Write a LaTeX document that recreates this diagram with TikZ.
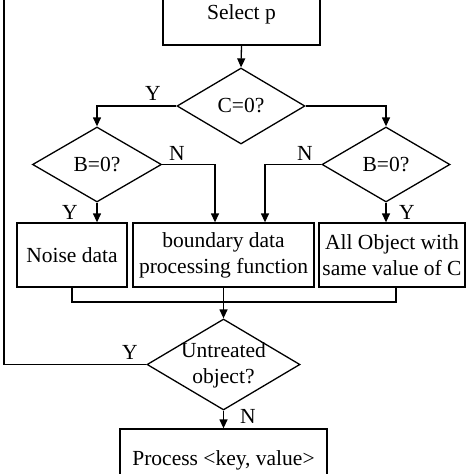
\documentclass[tikz,border=0pt]{standalone}
\usepackage{fontspec}
\setmainfont{Liberation Serif}
\usetikzlibrary{shapes.geometric,arrows.meta}
\begin{document}
\begin{tikzpicture}[x=1pt,y=-1pt,
  font=\fontsize{21.5}{26}\selectfont,
  line width=1.3pt,
  box/.style={draw,rectangle,inner sep=0pt,align=center},
  dia/.style={draw,diamond,inner sep=0pt},
  lbl/.style={inner sep=0pt},
  arr/.style={-{Triangle[length=9pt,width=8pt]}}]
\clip (0,0) rectangle (474,474);
\fill[white] (0,0) rectangle (474,474);
% nodes
\node[box,minimum width=157pt,minimum height=65pt] (sel) at (241.5,12.5) {};
\node[lbl] (selt) at (241.5,14) {Select p};
\node[dia,minimum width=128pt,minimum height=76pt] (c) at (241,106) {};
\node[lbl] (ct) at (241,106) {C=0?};
\node[dia,minimum width=129pt,minimum height=75pt] (bl) at (97,164.5) {};
\node[lbl] (blt) at (97,164.5) {B=0?};
\node[dia,minimum width=128pt,minimum height=75pt] (br) at (386,164.5) {};
\node[lbl] (brt) at (386,164.5) {B=0?};
\node[box,minimum width=110pt,minimum height=64pt] (noise) at (72,255) {Noise data};
\node[box,minimum width=181pt,minimum height=64pt] (bd) at (223.5,255) {boundary data\\processing function};
\node[box,minimum width=146pt,minimum height=64pt] (all) at (392,255) {All Object with\\same value of C};
\node[dia,minimum width=153pt,minimum height=91pt] (u) at (223.5,364.5) {};
\node[lbl,align=center] (ut) at (223.5,365) {Untreated\\object?};
\node[box,minimum width=207pt,minimum height=62pt] (proc) at (223.5,460) {};
\node[lbl] (proct) at (223.5,460) {Process <key, value>};
\coordinate (m) at (223.5,302);
\coordinate (looptop) at (4,-10);
% connectors
\draw[arr] (sel.south) -- (c.north);
\draw[arr] (c.west) -| (bl.north);
\draw[arr] (c.east) -| (br.north);
\draw[arr] (bl.east) -| ([xshift=-8.5pt]bd.north);
\draw[arr] (br.west) -| ([xshift=41.5pt]bd.north);
\draw[arr] (bl.south) -- (bl.south |- noise.north);
\draw[arr] (br.south) -- (br.south |- all.north);
\draw (noise.south) |- (m);
\draw ([xshift=4pt]all.south) |- (m);
\draw[arr] (bd.south) -- (u.north);
\draw (u.west) -| (looptop);
\draw[arr] (u.south) -- (proc.north);
% labels
\node[lbl] (y1) at (153,93) {Y};
\node[lbl] (n1) at (177,153) {N};
\node[lbl] (n2) at (305,153) {N};
\node[lbl] (y2) at (70,212) {Y};
\node[lbl] (y3) at (407,212) {Y};
\node[lbl] (y4) at (130,352) {Y};
\node[lbl] (n3) at (248,416) {N};
\end{tikzpicture}
\end{document}
